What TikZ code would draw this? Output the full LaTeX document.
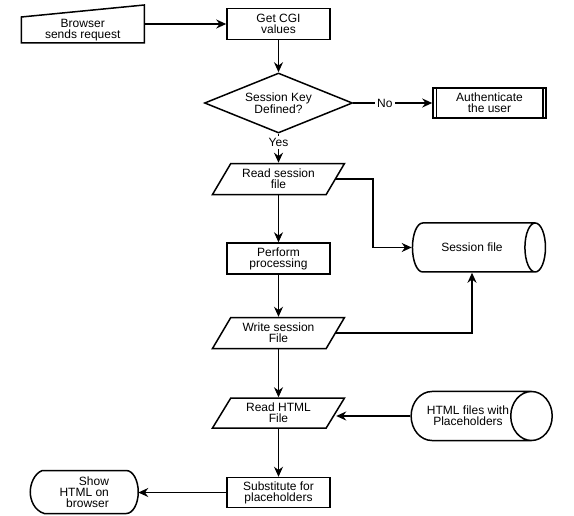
\documentclass[tikz,border=0pt]{standalone}
\usepackage{fontspec}
\setmainfont{Liberation Sans}
\usetikzlibrary{arrows.meta, positioning, shapes.geometric, calc}

\begin{document}
\begin{tikzpicture}[
  x=1pt, y=1pt,
  >={Stealth[length=10pt, width=9pt]},
  line width=1.5pt,
  font=\fontsize{12}{11}\selectfont,
  box/.style     = {draw, rectangle, align=center, minimum width=103pt, minimum height=31pt, inner sep=1pt},
  io/.style      = {draw, trapezium, trapezium left angle=50, trapezium right angle=130,
                    trapezium stretches body=true, minimum width=132pt, minimum height=31pt,
                    align=center, inner sep=1pt},
  decide/.style  = {draw, diamond, aspect=2.47, align=center, minimum width=148pt, minimum height=60pt, inner sep=0pt},
  store/.style   = {draw, cylinder, aspect=1.9, align=center, minimum height=133pt, minimum width=49pt, inner sep=1pt},
  blank/.style   = {align=center, inner sep=0pt, outer sep=0pt},
  thinwire/.style = {line width=0.8pt},
  tag/.style     = {fill=white, inner sep=2pt},
]
  \useasboundingbox (0,0) rectangle (574,-516);

  \node[box]                           (cgi)       at (278.5,-24) {Get CGI\\values};
  \node[blank, minimum width=123pt, minimum height=26pt, left=82pt of cgi, yshift=-6pt] (browser) {Browser\\sends request};
  \node[decide, below=32pt of cgi]     (key)       {Session Key\\Defined?};
  \node[box, minimum width=113pt, minimum height=30pt, right=79pt of key] (auth) {Authenticate\\the user};
  \node[io,     below=29pt of key]     (readsess)  {Read session\\file};
  \node[box,    below=47pt of readsess] (work)     {Perform\\processing};
  \node[io,     below=42pt of work]    (writesess) {Write session\\File};
  \node[io, minimum height=30pt, below=48pt of writesess] (readhtml) {Read HTML\\File};
  \node[box, minimum height=30pt, below=48pt of readhtml] (subst)    {Substitute for\\placeholders};
  \node[blank, align=right, minimum width=108pt, minimum height=43pt, left=88pt of subst, yshift=0.5pt] (show) {Show\\HTML on\\browser};

  % data stores on the right
  \node[store] (sessfile)  at (472,-247.5) {Session file};
  \node[store] (htmlfiles) at (468,-416)   {HTML files with\\Placeholders};

  % outlines that are not plain shapes
  \draw (browser.south west) -- (browser.north west) -- ([yshift=12pt]browser.north east)
        -- (browser.south east) -- cycle;
  \draw ([xshift=4pt]auth.north west) -- ([xshift=4pt]auth.south west);
  \draw ([xshift=-4pt]auth.north east) -- ([xshift=-4pt]auth.south east);
  \draw ([xshift=12pt]show.north west) -- ([xshift=-12pt]show.north east)
        arc[start angle=90, end angle=-90, x radius=12pt, y radius=21.5pt]
        -- ([xshift=14pt]show.south west)
        .. controls ([xshift=4pt, yshift=3pt]show.south west) and ([yshift=-8pt]show.west) .. (show.west)
        .. controls ([yshift=8pt]show.west) and ([xshift=4pt, yshift=-3pt]show.north west) .. ([xshift=12pt]show.north west)
        -- cycle;

  \draw[->] ([yshift=6pt]browser.east) -- (cgi.west);
  \draw[->] (cgi.south) -- (key.north);
  \draw[->] (key.east) -- node[tag, pos=0.4]{No} (auth.west);
  \draw[->] (key.south) -- node[tag, pos=0.3]{Yes} (readsess.north);
  \draw[->, thinwire] (readsess.south) -- (work.north);
  \draw[->, thinwire] (work.south) -- (writesess.north);
  \draw[->, thinwire] (writesess.south) -- (readhtml.north);
  \draw[->, thinwire] (readhtml.south) -- (subst.north);

  \draw[->] (readsess.east) -- ++(37pt,0) |- (sessfile.west);
  \draw[->] (writesess.east) -| (sessfile.south);
  \draw[->] (htmlfiles.west) -- (readhtml.east |- htmlfiles.west);
  \draw[->] (subst.west) -- (subst.west -| show.east);
\end{tikzpicture}
\end{document}
